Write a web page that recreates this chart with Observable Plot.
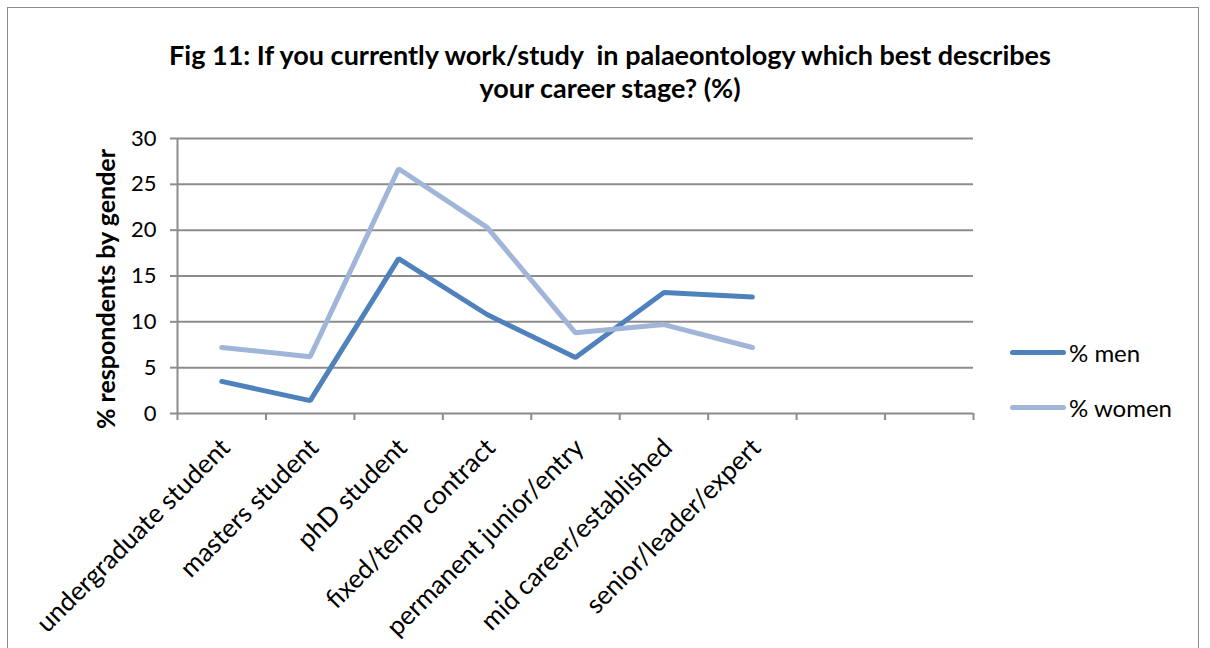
<!DOCTYPE html>
<html>
<head>
<meta charset="utf-8">
<script src="https://cdn.jsdelivr.net/npm/d3@7"></script>
<script src="https://cdn.jsdelivr.net/npm/@observablehq/plot@0.6"></script>
<style>
  html, body { margin: 0; padding: 0; background: #fff; }
  #wrap { position: relative; width: 1210px; height: 648px; overflow: hidden; font-family: Lato, "Open Sans", sans-serif; }
  #frame { position: absolute; left: 7px; top: 7px; width: 1192px; height: 700px; border: 1.5px solid #8c8c8c; box-sizing: border-box; }
  #title { position: absolute; left: 0; width: 1220px; top: 38px; text-align: center; font-weight: bold; font-size: 27px; line-height: 33px; color: #000; }
  #ylabel { position: absolute; left: 105px; top: 289px; transform: translate(-50%, -50%) rotate(-90deg); white-space: nowrap; font-weight: bold; font-size: 25px; color: #000; }
  .leg { position: absolute; left: 1010px; font-size: 24px; color: #000; display: flex; align-items: center; white-space: nowrap; }
  .leg span.sw { display: inline-block; width: 56px; height: 5px; border-radius: 3px; margin-right: 3px; }
  #plot { position: absolute; left: 0; top: 0; }
</style>
</head>
<body>
<div id="wrap">
  <div id="frame"></div>
  <div id="plot"></div>
  <div id="title">Fig 11: If you currently work/study&nbsp; in palaeontology which best describes<br>your career stage? (%)</div>
  <div id="ylabel">% respondents by gender</div>
  <div id="legend"></div>
</div>
<script>
const categories = [
  "undergraduate student",
  "masters student",
  "phD student",
  "fixed/temp contract",
  "permanent junior/entry",
  "mid career/established",
  "senior/leader/expert"
];
const slotCount = 9;
const seriesNames = ["% men", "% women"];
const seriesColors = ["#4F81BD", "#A0B5D7"];
const men = [3.5, 1.4, 16.9, 10.8, 6.1, 13.2, 12.7];
const women = [7.2, 6.2, 26.7, 20.3, 8.8, 9.7, 7.2];
const yTicks = [0, 5, 10, 15, 20, 25, 30];

const data = [];
categories.forEach((c, i) => {
  data.push({i, c, v: men[i], s: seriesNames[0]});
});
categories.forEach((c, i) => {
  data.push({i, c, v: women[i], s: seriesNames[1]});
});

const gridColor = "#8c8c8c";

const chart = Plot.plot({
  width: 1210,
  height: 648,
  marginLeft: 177,
  marginRight: 237,
  marginTop: 138,
  marginBottom: 235,
  style: {fontFamily: "Lato, 'Open Sans', sans-serif", color: "#000", background: "transparent", overflow: "visible"},
  x: {domain: [0, slotCount], axis: null},
  y: {domain: [0, 30], axis: null},
  color: {domain: seriesNames, range: seriesColors},
  marks: [
    Plot.gridY(yTicks, {stroke: gridColor, strokeOpacity: 1, strokeWidth: 2}),
    Plot.axisY(yTicks, {tickSize: 7, tickPadding: 14, fontSize: 22, label: null, stroke: gridColor, strokeWidth: 2}),
    Plot.ruleX([0], {y1: 0, y2: 30, stroke: gridColor, strokeWidth: 2}),
    Plot.axisX(d3.range(slotCount + 1), {tickSize: 7, tickFormat: () => "", label: null, stroke: gridColor, strokeWidth: 2}),
    Plot.line(data, {x: d => d.i + 0.5, y: "v", z: "s", stroke: "s", strokeWidth: 5, strokeLinecap: "round", strokeLinejoin: "miter"}),
    Plot.text(categories, {x: (d, i) => i + 0.5, y: () => 0, text: d => d, textAnchor: "end", rotate: -45, fontSize: 26, dx: 4, dy: 30})
  ]
});
document.getElementById("plot").appendChild(chart);

const legend = document.getElementById("legend");
seriesNames.forEach((n, k) => {
  const el = document.createElement("div");
  el.className = "leg";
  el.style.top = (k === 0 ? 338 : 393) + "px";
  el.innerHTML = `<span class="sw" style="background:${seriesColors[k]}"></span>${n}`;
  legend.appendChild(el);
});
</script>
</body>
</html>
